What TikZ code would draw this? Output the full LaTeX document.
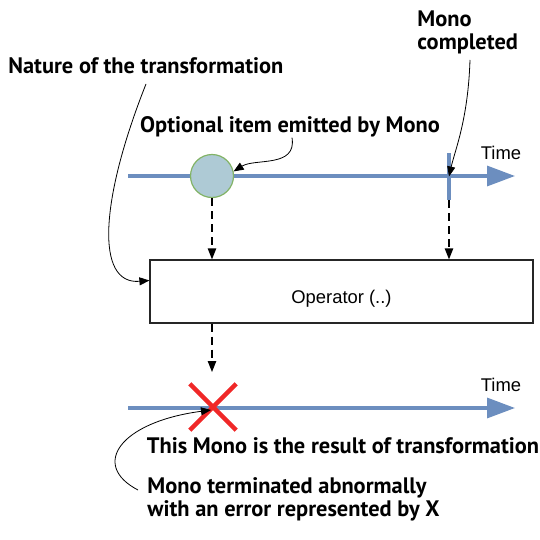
\documentclass[tikz,border=0pt]{standalone}
\usepackage{fontspec}
\setmainfont{Liberation Sans}
\newfontfamily\notefont{PT Sans}
\usetikzlibrary{arrows.meta, positioning, shapes.misc}
\definecolor{timeblue}{RGB}{108,142,191}
\definecolor{itemfill}{RGB}{174,202,213}
\definecolor{itemgreen}{RGB}{130,179,102}
\definecolor{errorred}{RGB}{240,40,40}
\tikzset{
  timeline/.style={draw=timeblue, line width=1.6pt, -{Triangle[length=14pt, width=10pt]}},
  timelabel/.style={font=\fontsize{9.2}{11}\selectfont, inner sep=0pt},
  notelabel/.style={font=\notefont\bfseries\fontsize{11.2}{11.8}\selectfont, inner sep=0pt, align=left},
  itemnode/.style={circle, draw=itemgreen, fill=itemfill, line width=0.6pt, minimum size=21.5pt, inner sep=0pt},
  donemark/.style={rectangle, fill=timeblue, minimum width=1.6pt, minimum height=23.5pt, inner sep=0pt},
  errormark/.style={cross out, draw=errorred, line width=2.2pt, minimum size=21pt, inner sep=0pt},
  opbox/.style={rectangle, draw=black!85, line width=0.6pt, minimum width=191.5pt, minimum height=31.5pt, font=\fontsize{9.2}{11}\selectfont},
  flowarrow/.style={-{Triangle[length=5.5pt, width=4.2pt]}, dash pattern=on 4pt off 2.5pt, line width=0.6pt},
  notearrow/.style={-{Triangle[length=5pt, width=4pt]}, line width=0.4pt}
}
\begin{document}
\begin{tikzpicture}[x=0.5pt, y=-0.5pt]
  \useasboundingbox (0,0) rectangle (540,540);

  % source Mono
  \coordinate (srcstart) at (128,176);
  \coordinate (srcend) at (515,176);
  \draw[timeline] (srcstart) -- (srcend);
  \node[timelabel] (srctime) at (501,153) {Time};
  \node[itemnode] (item) at (212,176) {};
  \node[donemark] (done) at (449,176.5) {};

  % operator
  \node[opbox] (op) at (341.5,291.5) {\raisebox{-6pt}[0pt][0pt]{Operator (..)}};

  % resulting Mono
  \coordinate (resstart) at (128,408);
  \coordinate (resend) at (515,408);
  \draw[timeline] (resstart) -- (resend);
  \node[timelabel] (restime) at (501,385) {Time};
  \node[errormark] (err) at (213,407) {};
  \coordinate (drop) at (212,372);

  \draw[flowarrow] (item.south) -- (item.south |- op.north);
  \draw[flowarrow] (done.south) -- (done.south |- op.north);
  \draw[flowarrow] (op.south -| item) -- (drop);

  % labels
  \node[notelabel, anchor=west] (nature) at (8,66) {Nature of the transformation};
  \node[notelabel] (optional) at (290,127) {Optional item emitted by Mono};
  \node[notelabel, anchor=north west] (completed) at (417,10) {Mono\\completed};
  \node[notelabel] (result) at (343,446) {This Mono is the result of transformation};
  \node[notelabel, anchor=north west] (abnormal) at (147,477) {Mono terminated abnormally\\with an error represented by X};

  \draw[notearrow] (146,84) .. controls (100,200) and (95,285) .. ([yshift=5.5pt]op.west);
  \draw[notearrow] (optional.south -| 292,0) .. controls (297,168) and (255,158) .. (item.12);
  \draw[notearrow] (470,60) .. controls (468,120) and (455,150) .. (done.center);
  \draw[notearrow] (abnormal.west |- 0,490) ++(-9,0) .. controls (90,465) and (120,422) .. ([xshift=-1pt, yshift=-1.5pt]err.center);
\end{tikzpicture}
\end{document}
